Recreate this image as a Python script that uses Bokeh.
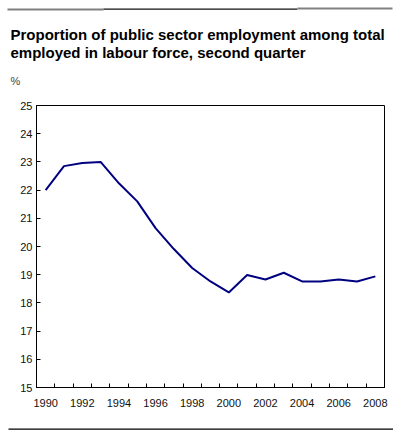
from bokeh.plotting import figure
from bokeh.models import FixedTicker, Label, Range1d, BoxAnnotation
from bokeh.layouts import column
from bokeh.embed import file_html
from bokeh.resources import INLINE

# Data
years = [1990, 1991, 1992, 1993, 1994, 1995, 1996, 1997, 1998, 1999,
         2000, 2001, 2002, 2003, 2004, 2005, 2006, 2007, 2008]
share = [22.0, 22.85, 22.96, 23.0, 22.24, 21.6, 20.65, 19.91, 19.24, 18.76,
         18.37, 18.99, 18.83, 19.07, 18.76, 18.76, 18.83, 18.76, 18.94]
year_labels = [1990, 1992, 1994, 1996, 1998, 2000, 2002, 2004, 2006, 2008]
y_ticks = [15, 16, 17, 18, 19, 20, 21, 22, 23, 24, 25]

title_lines = ["Proportion of public sector employment among total",
               "employed in labour force, second quarter"]
unit_label = "%"

FONT = "Liberation Sans"
W = 393
HEAD_H = 95
MAIN_H = 316
FOOT_H = 22


def blank(height):
    f = figure(width=W, height=height, toolbar_location=None, output_backend="svg",
               x_range=Range1d(0, W), y_range=Range1d(height, 0),
               x_axis_location=None, y_axis_location=None, min_border=0)
    f.grid.visible = False
    f.outline_line_color = None
    return f


def band(left, right, top, bottom, color):
    return BoxAnnotation(left=left, right=right, top=top, bottom=bottom,
                         fill_color=color, fill_alpha=1, line_color=None)


# header: rule + title + unit
head = blank(HEAD_H)
head.add_layout(band(7, 103, 8, 10, "#808080"))
head.add_layout(band(103, 297, 8, 9.3, "#111111"))
head.add_layout(band(297, 392, 7, 9, "#808080"))
for i, t in enumerate(title_lines):
    head.add_layout(Label(x=10, y=34 + 17.5 * i, text=t, text_font=FONT,
                          text_font_style="bold", text_font_size="15px",
                          text_color="black", text_baseline="alphabetic"))
head.add_layout(Label(x=10, y=80, text=unit_label, text_font=FONT,
                      text_font_size="11px", text_color="#444444",
                      text_baseline="alphabetic"))

# main chart
p = figure(width=W, height=MAIN_H, toolbar_location=None, output_backend="svg",
           x_range=Range1d(years[0] - 0.5, years[-1] + 0.5),
           y_range=Range1d(y_ticks[0], y_ticks[-1]),
           min_border_left=36, min_border_right=9, min_border_top=10,
           min_border_bottom=24)
p.grid.visible = False
p.outline_line_color = "black"
p.outline_line_width = 1

p.line(years, share, line_color="#000080", line_width=2)

p.xaxis.ticker = FixedTicker(ticks=year_labels,
                             minor_ticks=[y - 0.5 for y in years] + [years[-1] + 0.5])
p.xaxis.major_tick_line_color = None
p.xaxis.minor_tick_in = 4
p.xaxis.minor_tick_out = 0
p.xaxis.minor_tick_line_color = "black"
p.xaxis.major_label_standoff = 5

p.yaxis.ticker = FixedTicker(ticks=y_ticks)
p.yaxis.major_tick_in = 4
p.yaxis.major_tick_out = 0
p.yaxis.major_tick_line_color = "black"
p.yaxis.minor_tick_line_color = None
p.yaxis.major_label_standoff = 4

for ax in (p.xaxis, p.yaxis):
    ax.axis_line_color = "black"
    ax.major_label_text_font = FONT
    ax.major_label_text_font_size = "11px"
    ax.major_label_text_color = "#111111"

# footer with the bottom rule
foot = blank(FOOT_H)
foot.add_layout(band(8, 393, 17, 18.3, "black"))

# nested columns so the header/footer frames are not aligned to the chart frame
layout = column(column(head), p, column(foot), spacing=0)

open("out.html", "w").write(file_html(layout, INLINE))
